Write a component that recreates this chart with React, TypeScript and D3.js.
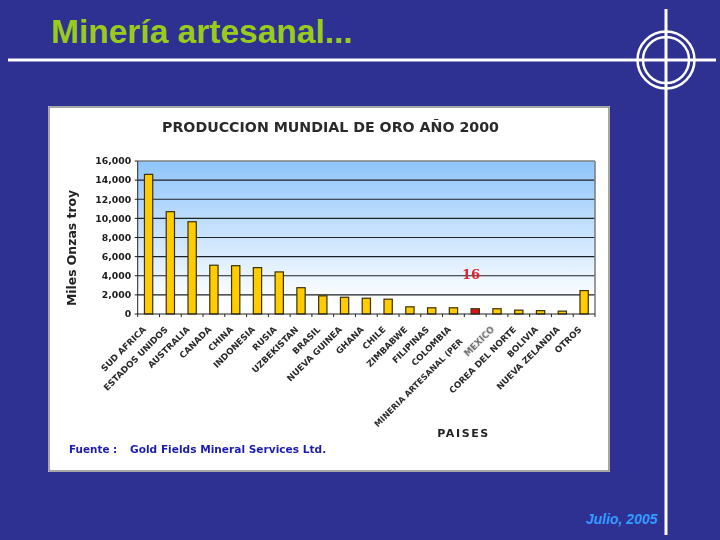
import React from "react";
import * as d3 from "d3";

const paises = ["SUD AFRICA","ESTADOS UNIDOS","AUSTRALIA","CANADA","CHINA","INDONESIA","RUSIA","UZBEKISTAN","BRASIL","NUEVA GUINEA","GHANA","CHILE","ZIMBABWE","FILIPINAS","COLOMBIA","MINERIA ARTESANAL (PER","MEXICO","COREA DEL NORTE","BOLIVIA","NUEVA ZELANDIA","OTROS"];
const valores = [14600,10700,9650,5100,5050,4850,4400,2750,1900,1750,1650,1550,750,650,650,550,550,400,350,300,2450];
const marcado = "MINERIA ARTESANAL (PER";
const ticksY = [0,2000,4000,6000,8000,10000,12000,14000,16000];
const titulo = "Minería artesanal...";
const tituloGrafico = "PRODUCCION MUNDIAL DE ORO AÑO 2000";
const ejeY = "Miles Onzas troy";
const ejeX = "PAISES";
const fuente = "Fuente :";
const fuenteTexto = "Gold Fields Mineral Services Ltd.";
const fecha = "Julio, 2005";
const etiquetaValor = "16";

const L = 137.7, R = 595, T = 161, B = 314;
const FONT = "'DejaVu Sans', sans-serif";

export default function App() {
  const x = d3.scaleBand<string>().domain(paises).range([L, R]).paddingInner(0.62).paddingOuter(0.31);
  const step = (R - L) / paises.length;
  const y = d3.scaleLinear().domain([0, 16000]).range([B, T]);
  const fmt = d3.format(",");
  return (
    <svg width={720} height={540} viewBox="0 0 720 540" style={{ position: "absolute", left: 0, top: 0, display: "block" }}>
      <defs>
        <linearGradient id="fondo" x1="0" y1="0" x2="0" y2="1">
          <stop offset="0" stopColor="#8fc5fa" />
          <stop offset="0.92" stopColor="#ffffff" />
          <stop offset="1" stopColor="#ffffff" />
        </linearGradient>
        <filter id="suave" x="-5%" y="-5%" width="110%" height="110%">
          <feGaussianBlur stdDeviation="0.35" />
        </filter>
        <filter id="borroso" x="-30%" y="-30%" width="160%" height="160%">
          <feGaussianBlur stdDeviation="0.6" />
        </filter>
      </defs>
      <rect width={720} height={540} fill="#2e3192" />

      <text x={51} y={43} fontFamily="'Liberation Sans', Arial, sans-serif" fontWeight="bold" fontSize={33.5} fill="#99cc1a">{titulo}</text>
      <line x1={8} x2={716} y1={60} y2={60} stroke="#fff" strokeWidth={3} />
      <line x1={666} x2={666} y1={9} y2={535} stroke="#fff" strokeWidth={3} />
      <circle cx={666} cy={60} r={28.5} fill="none" stroke="#fff" strokeWidth={2.5} />
      <circle cx={666} cy={60} r={23} fill="none" stroke="#fff" strokeWidth={2.5} />
      <text x={657.5} y={524} textAnchor="end" fontFamily="'Liberation Sans', Arial, sans-serif" fontStyle="italic" fontWeight="bold" fontSize={14} fill="#3399ff">{fecha}</text>

      <rect x={48} y={106} width={562} height={366} fill="#ffffff" />
      <rect x={49} y={107} width={560} height={364} fill="none" stroke="#8a8a8a" strokeWidth={1.5} />

      <g filter="url(#suave)">
        <text x={330.5} y={132} textAnchor="middle" fontFamily={FONT} fontWeight="bold" fontSize={14.2} fill="#2a2a2a">{tituloGrafico}</text>

        <rect x={L} y={T} width={R - L} height={B - T} fill="url(#fondo)" />
        {ticksY.map((t) => (
          <g key={t}>
            {t > 0 && t < 16000 && <line x1={L} x2={R} y1={y(t)} y2={y(t)} stroke="#1c2026" strokeWidth={1.2} />}
            <line x1={L - 3} x2={L} y1={y(t)} y2={y(t)} stroke="#222" strokeWidth={1} />
            <text x={L - 6.5} y={y(t) + 3.3} textAnchor="end" fontFamily={FONT} fontWeight="bold" fontSize={9.3} fill="#1c1c1c">{fmt(t)}</text>
          </g>
        ))}
        <line x1={L} x2={R} y1={T} y2={T} stroke="#808080" strokeWidth={1.6} />
        <line x1={R} x2={R} y1={T} y2={B} stroke="#808080" strokeWidth={1.6} />
        <line x1={L} x2={L} y1={T} y2={B} stroke="#222" strokeWidth={1} />

        {paises.map((p, i) => (
          <rect key={p} x={x(p)!} y={y(valores[i])} width={x.bandwidth()} height={B - y(valores[i])}
            fill={p === marcado ? "#e0101c" : "#ffcc00"} stroke="#3a3000" strokeWidth={1.2} />
        ))}

        <line x1={L} x2={R} y1={B} y2={B} stroke="#222" strokeWidth={1.1} />
        {d3.range(paises.length + 1).map((i) => (
          <line key={i} x1={L + i * step} x2={L + i * step} y1={B} y2={B + 3} stroke="#222" strokeWidth={1} />
        ))}
        {paises.map((p) => {
          const cx = x(p)! + x.bandwidth() / 2;
          const esMexico = p === "MEXICO";
          const esLargo = p === marcado;
          const ax = esLargo ? cx - 12 : cx - 2;
          const ay = esLargo ? 342 : B + 16;
          return (
            <text key={p} transform={`translate(${ax},${ay}) rotate(-45)`} textAnchor="end"
              fontFamily={FONT} fontWeight="bold" fontSize={esLargo ? 8.2 : 8.7} fill={esMexico ? "#666" : "#2a2a2a"}
              filter={esMexico ? "url(#borroso)" : undefined}>{p}</text>
          );
        })}

        <text transform={`translate(76,248) rotate(-90)`} textAnchor="middle" fontFamily={FONT} fontWeight="bold" fontSize={12.4} fill="#222">{ejeY}</text>
        <text x={463.5} y={437} textAnchor="middle" fontFamily={FONT} fontWeight="bold" fontSize={11} letterSpacing={1.6} fill="#222">{ejeX}</text>
        <text x={471} y={279} textAnchor="middle" fontFamily="'DejaVu Serif', serif" fontWeight="bold" fontSize={13} fill="#e0202a">{etiquetaValor}</text>
        <text x={69} y={453} fontFamily={FONT} fontWeight="bold" fontSize={10.4} fill="#1c1cb0">{fuente}</text>
        <text x={130} y={453} fontFamily={FONT} fontWeight="bold" fontSize={10.6} fill="#1c1cb0">{fuenteTexto}</text>
      </g>
    </svg>
  );
}
